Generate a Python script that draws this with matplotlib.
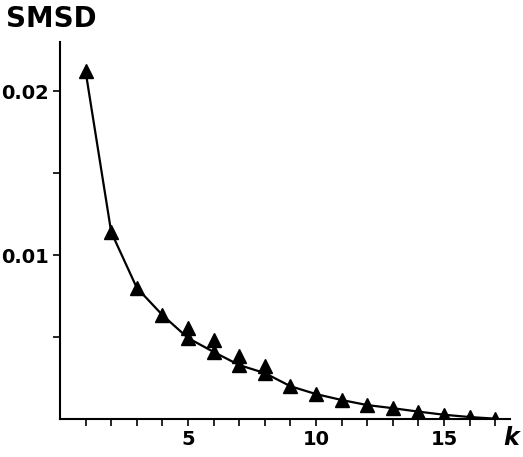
import matplotlib
matplotlib.use("Agg")
import matplotlib.pyplot as plt

# main curve (line goes through these)
k = list(range(1, 18))
smsd = [0.0212, 0.0114, 0.0080, 0.00634, 0.00494, 0.00409, 0.00329, 0.0028,
        0.0020, 0.00152, 0.00116, 0.00085, 0.00066, 0.00045, 0.00026, 0.00012, 0.00002]
# second, upper points where two values were plotted
k_upper = [5, 6, 7, 8]
smsd_upper = [0.00555, 0.00482, 0.00384, 0.00323]

x_ticks = list(range(1, 18))
x_labels = ["5" if t == 5 else "10" if t == 10 else "15" if t == 15 else "" for t in x_ticks]
y_ticks = [0.005, 0.01, 0.015, 0.02]
y_labels = ["", "0.01", "", "0.02"]

fig = plt.figure(figsize=(5.23, 4.57), dpi=100)
ax = fig.add_axes([60 / 523, 1 - 419 / 457, 450 / 523, 377 / 457])

ax.plot(k, smsd, color="black", lw=1.6, marker="^", ms=10, zorder=3)
ax.plot(k_upper, smsd_upper, ls="none", color="black", marker="^", ms=10, zorder=3)

ax.set_xlim(0, 17.58)
ax.set_ylim(0, 0.02299)
for s in ["top", "right"]:
    ax.spines[s].set_visible(False)
for s in ["left", "bottom"]:
    ax.spines[s].set_linewidth(1.5)

ax.set_xticks(x_ticks)
ax.set_xticklabels(x_labels)
ax.set_yticks(y_ticks)
ax.set_yticklabels(y_labels)
ax.tick_params(direction="out", length=5, width=1.2, labelsize=14, pad=3)
for lab in ax.get_xticklabels() + ax.get_yticklabels():
    lab.set_fontweight("bold")

fig.text(6 / 523, 1 - 19 / 457, "SMSD", fontsize=20, fontweight="bold", va="center", ha="left")
fig.text(511 / 523, 1 - 438 / 457, "k", fontsize=17, fontweight="bold", style="italic",
         va="center", ha="center")

fig.savefig("out.png", dpi=100)
